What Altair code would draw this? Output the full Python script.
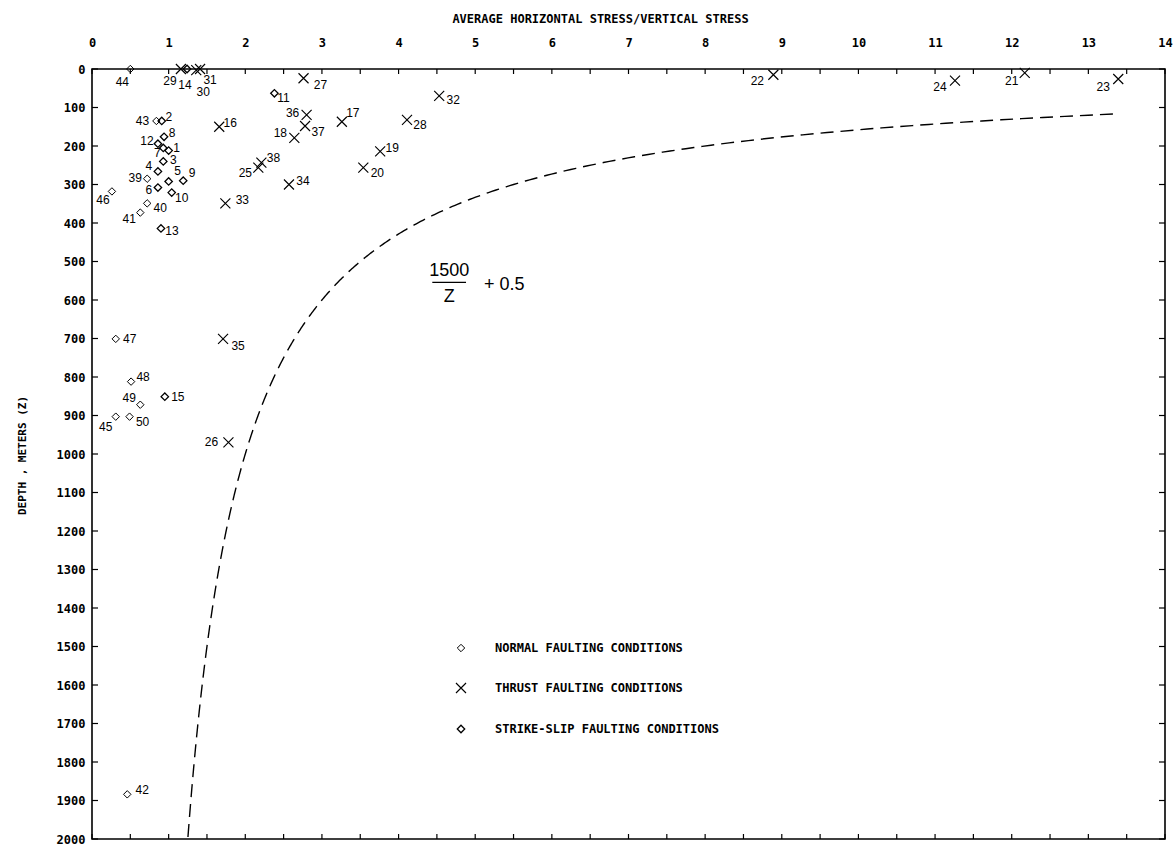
import altair as alt
import pandas as pd
import numpy as np

# ---------------- data ----------------
site_id = list(range(1, 51))
stress_ratio = [1.00, 0.91, 0.93, 0.86, 1.00, 0.86, 0.93, 0.94, 1.19, 1.04,
                2.38, 0.86, 0.90, 1.24, 0.95, 1.66, 3.26, 2.64, 3.76, 3.54,
                12.17, 8.89, 13.39, 11.26, 2.17, 1.78, 2.76, 4.11, 1.16, 1.36,
                1.41, 4.53, 1.74, 2.57, 1.71, 2.80, 2.78, 2.21, 0.72, 0.72,
                0.63, 0.46, 0.84, 0.50, 0.31, 0.26, 0.31, 0.51, 0.63, 0.49]
depth_m = [212, 135, 240, 266, 292, 308, 205, 176, 290, 321,
           63, 194, 414, 0, 851, 150, 137, 179, 214, 256,
           10, 15, 26, 30, 256, 970, 24, 132, 0, 3,
           0, 70, 349, 300, 701, 119, 148, 243, 285, 349,
           373, 1884, 135, 0, 903, 318, 701, 812, 872, 903]
N = "NORMAL FAULTING CONDITIONS"
T = "THRUST FAULTING CONDITIONS"
S = "STRIKE-SLIP FAULTING CONDITIONS"
condition = [S] * 15 + [T] * 23 + [N] * 12
cond_order = [N, T, S]

# label offsets from their marker (pixels)
label_dx = [8, 7, 10, -9, 9, -9, -6, 8, 9, 10,
            9, -11, 11, -2, 13, 11, 11, -14, 12, 14,
            -13, -16, -15, -15, -13, -17, 17, 13, -11, 7,
            10, 14, 17, 14, 15, -14, 13, 12, -12, 13,
            -11, 15, -14, -8, -10, -9, 14, 12, -11, 13]
label_dy = [-3, -4, -1, -5, -10, 2, 5, -4, -8, 5,
            5, -3, 3, 16, 0, -4, -9, -5, -3, 5,
            8, 6, 8, 6, 5, 0, 7, 5, 12, 22,
            11, 4, -3, -4, 7, -2, 6, -5, -1, 5,
            6, -4, 0, 13, 10, 9, 0, -5, -7, 5]

x_ticks = [i * 0.5 for i in range(29)]
x_labels = list(range(15))
y_ticks = list(range(0, 2001, 100))

# formula annotation
ann_text = ["1500", "Z", "+ 0.5"]
ann_x = [4.66, 4.66, 5.38]
ann_depth = [525, 592, 561]
bar_x = [4.44]
bar_x2 = [4.88]
bar_depth = [554]

W, H = 1073, 770
PX_PER_X = W / 14.0
PX_PER_Y = H / 2000.0

df = pd.DataFrame({
    "id": site_id, "ratio": stress_ratio, "depth": depth_m,
    "cond": condition, "dx": label_dx, "dy": label_dy,
})

xs = alt.Scale(domain=[0, 14], nice=False, zero=False)
ys = alt.Scale(domain=[0, 2000], reverse=True, nice=False, zero=False)

MONO = "DejaVu Sans Mono"
x_path = "M-1.35,-1.35L1.35,1.35M-1.35,1.35L1.35,-1.35"

X_AXIS = alt.Axis(
    orient="top", values=x_labels, format="d", ticks=False, domain=False, grid=False,
    labelFont=MONO, labelFontSize=12, labelFontWeight="bold", labelColor="black",
    labelPadding=20, labelFlush=False, labelOverlap=False,
    title="AVERAGE HORIZONTAL STRESS/VERTICAL STRESS", titleFont=MONO,
    titleFontSize=12, titleFontWeight="bold", titleColor="black",
    titleX=508, titleY=-51, titleBaseline="middle", titleAlign="center")
Y_AXIS = alt.Axis(
    orient="left", values=y_ticks, format="d", ticks=False, domain=False, grid=False,
    labelFont=MONO, labelFontSize=12, labelFontWeight="bold", labelColor="black",
    labelPadding=7, labelFlush=False, labelOverlap=False,
    title="DEPTH , METERS (Z)", titleFont=MONO, titleFontSize=11,
    titleFontWeight="bold", titleColor="black", titleAngle=270,
    titleX=-70, titleY=386, titleBaseline="middle", titleAlign="center")

legend_cfg = dict(title=None, orient="none", legendX=363, legendY=573,
                  labelFont=MONO, labelFontSize=12, labelFontWeight="bold",
                  labelColor="black", labelOffset=28, rowPadding=26,
                  symbolSize=55, symbolStrokeColor="black", padding=0,
                  labelLimit=600)

points = alt.Chart(df).mark_point(filled=False, color="black", opacity=1, size=55).encode(
    x=alt.X("ratio:Q", scale=xs, axis=X_AXIS),
    y=alt.Y("depth:Q", scale=ys, axis=Y_AXIS),
    shape=alt.Shape("cond:N", scale=alt.Scale(domain=cond_order, range=["diamond", x_path, "diamond"]),
                    legend=alt.Legend(**legend_cfg)),
    strokeWidth=alt.StrokeWidth("cond:N", scale=alt.Scale(domain=cond_order, range=[1.0, 1.3, 2.2]),
                                legend=alt.Legend(**legend_cfg)),
)

labels = alt.Chart(df).transform_calculate(
    lx=f"datum.ratio + datum.dx / {PX_PER_X}",
    ly=f"datum.depth + datum.dy / {PX_PER_Y}",
).mark_text(font="Liberation Sans", fontSize=12, color="black", align="center", baseline="middle").encode(
    x=alt.X("lx:Q", scale=xs, axis=X_AXIS),
    y=alt.Y("ly:Q", scale=ys, axis=Y_AXIS),
    text="id:N",
)

curve = alt.Chart(alt.sequence(117, 2001, 3, as_="z")).transform_calculate(
    r="1500 / datum.z + 0.5"
).mark_line(color="black", strokeWidth=1.4, strokeDash=[13, 7]).encode(
    x=alt.X("r:Q", scale=xs, axis=X_AXIS),
    y=alt.Y("z:Q", scale=ys, axis=Y_AXIS),
    order="z:Q",
)

ann_df = pd.DataFrame({"t": ann_text, "x": ann_x, "d": ann_depth})
ann = alt.Chart(ann_df).mark_text(font="Liberation Sans", fontSize=18, color="black",
                                  align="center", baseline="middle").encode(
    x=alt.X("x:Q", scale=xs, axis=X_AXIS), y=alt.Y("d:Q", scale=ys, axis=Y_AXIS), text="t:N")

bar_df = pd.DataFrame({"x": bar_x, "x2": bar_x2, "d": bar_depth})
bar = alt.Chart(bar_df).mark_rule(color="black", strokeWidth=1.3).encode(
    x=alt.X("x:Q", scale=xs, axis=X_AXIS), x2="x2:Q", y=alt.Y("d:Q", scale=ys, axis=Y_AXIS))

xt_df = pd.DataFrame({"t": x_ticks})
yt_df = pd.DataFrame({"t": y_ticks})
top_ticks = alt.Chart(xt_df).mark_rule(color="black", strokeWidth=1.2).encode(
    x=alt.X("t:Q", scale=xs, axis=X_AXIS), y=alt.value(0), y2=alt.value(5))
bot_ticks = alt.Chart(xt_df).mark_rule(color="black", strokeWidth=1.2).encode(
    x=alt.X("t:Q", scale=xs, axis=X_AXIS), y=alt.value(H - 5), y2=alt.value(H))
left_ticks = alt.Chart(yt_df).mark_rule(color="black", strokeWidth=1.2).encode(
    y=alt.Y("t:Q", scale=ys, axis=Y_AXIS), x=alt.value(0), x2=alt.value(6))
right_ticks = alt.Chart(yt_df).mark_rule(color="black", strokeWidth=1.2).encode(
    y=alt.Y("t:Q", scale=ys, axis=Y_AXIS), x=alt.value(W - 6), x2=alt.value(W))

chart = alt.layer(points, labels, curve, ann, bar, top_ticks, bot_ticks, left_ticks, right_ticks).properties(
    width=W, height=H,
    autosize=alt.AutoSizeParams(type="none"),
    padding={"left": 92, "top": 69, "right": 8, "bottom": 6},
    background="white",
).configure_view(stroke="black", strokeWidth=1.6)

chart.save("out.html", embed_options={"renderer": "svg", "actions": False})
